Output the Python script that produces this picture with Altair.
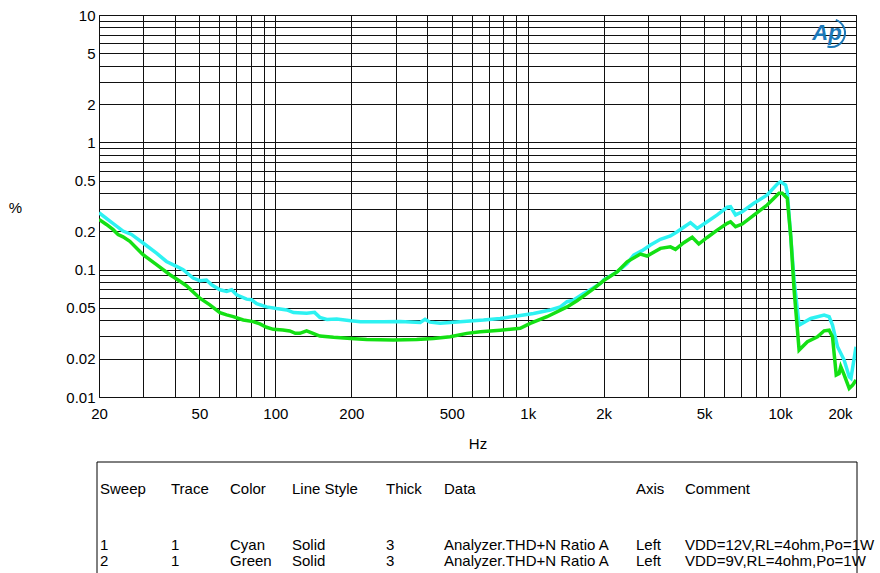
import altair as alt
import pandas as pd

# ---------------- data ----------------
cyan_f = [20, 22.1, 24.9, 26.9, 29.9, 33.8, 37.0, 40.6, 43.1, 47.2, 50.2, 53.3, 55.9, 60.3, 64.1,
          67.1, 70.2, 76.9, 80.5, 84.3, 92.3, 101, 111, 118, 133, 143, 150, 160, 175, 199,
          217, 268, 312, 375, 392, 410, 450, 540, 668, 778, 906, 1054, 1228, 1346, 1432,
          1520, 1666, 1718, 1942, 2000, 2260, 2477, 2631, 2840, 3064, 3357, 3678, 3911, 4220, 4416,
          4697, 5143, 5636, 6177, 6366, 6663, 7081, 7875, 8892, 9750, 10046, 10521, 10681, 11030, 11370,
          11720, 11900, 13240, 14950, 15650, 16140, 16900, 17950, 18800, 19100, 20000]
cyan_v = [0.28, 0.241, 0.201, 0.189, 0.162, 0.135, 0.116, 0.106, 0.100, 0.086, 0.082, 0.083, 0.076, 0.0695, 0.0675,
          0.0695, 0.0635, 0.0587, 0.058, 0.054, 0.051, 0.0495, 0.0483, 0.046, 0.0455, 0.0462, 0.0422, 0.0407, 0.041, 0.0397,
          0.039, 0.039, 0.0392, 0.0385, 0.0407, 0.0387, 0.0379, 0.039, 0.0402, 0.0414, 0.0432, 0.0453, 0.0482, 0.051, 0.056,
          0.0577, 0.0651, 0.067, 0.078, 0.083, 0.096, 0.112, 0.130, 0.141, 0.156, 0.173, 0.184, 0.1985, 0.220, 0.234,
          0.211, 0.238, 0.269, 0.309, 0.312, 0.269, 0.285, 0.332, 0.386, 0.47, 0.49, 0.462, 0.409, 0.181, 0.083,
          0.048, 0.0367, 0.0414, 0.044, 0.0427, 0.0367, 0.0248, 0.0195, 0.0144, 0.014, 0.0248]

green_f = [20, 21.4, 22.7, 23.8, 24.9, 26.5, 29.9, 33.8, 38.2, 40.6, 44.4, 50.2, 55, 60.3, 64.1,
           68.1, 74.6, 81.7, 86.8, 92.3, 98.1, 107, 114, 120, 125, 133, 141, 150, 170, 199,
           230, 294, 363, 423, 493, 574, 649, 778, 934, 1023, 1193, 1432, 1568, 1700, 1826,
           2000, 2260, 2477, 2796, 2972, 3357, 3678, 3851, 4155, 4487, 4764, 5143, 5636, 6177, 6366,
           6663, 7081, 7875, 8892, 9903, 10200, 10680, 11030, 11370, 11900, 12840, 14070, 14950, 15650, 16140,
           16700, 17140, 17400, 17950, 18800, 19400, 20000]
green_v = [0.248, 0.2265, 0.207, 0.189, 0.181, 0.167, 0.131, 0.1095, 0.0913, 0.0844, 0.0748, 0.0597, 0.0529, 0.046, 0.0441,
           0.0428, 0.0403, 0.0391, 0.0375, 0.0353, 0.034, 0.0336, 0.033, 0.0316, 0.0316, 0.0331, 0.0316, 0.0301, 0.0294, 0.0288,
           0.0283, 0.028, 0.0283, 0.0288, 0.0297, 0.0316, 0.0325, 0.0335, 0.0346, 0.0379, 0.0427, 0.051, 0.057, 0.064, 0.071,
           0.082, 0.096, 0.1153, 0.1326, 0.128, 0.147, 0.151, 0.1444, 0.1627, 0.1794, 0.159, 0.179, 0.2046, 0.231, 0.2378,
           0.2173, 0.228, 0.2685, 0.3218, 0.3975, 0.3975, 0.363, 0.181, 0.0692, 0.0234, 0.0272, 0.0297, 0.0331, 0.0335, 0.0297,
           0.0149, 0.0153, 0.0173, 0.0149, 0.0117, 0.0124, 0.0136]

x_grid = [20, 30, 40, 50, 60, 70, 80, 90, 100, 200, 300, 400, 500, 600, 700, 800, 900,
          1000, 2000, 3000, 4000, 5000, 6000, 7000, 8000, 9000, 10000, 20000]
x_labels = [20, 50, 100, 200, 500, 1000, 2000, 5000, 10000, 20000]
y_grid = [0.01, 0.02, 0.03, 0.04, 0.05, 0.06, 0.07, 0.08, 0.09,
          0.1, 0.2, 0.3, 0.4, 0.5, 0.6, 0.7, 0.8, 0.9,
          1, 2, 3, 4, 5, 6, 7, 8, 9, 10]
y_labels = [0.01, 0.02, 0.05, 0.1, 0.2, 0.5, 1, 2, 5, 10]

headers = ["Sweep", "Trace", "Color", "Line Style", "Thick", "Data", "Axis", "Comment"]
row1 = ["1", "1", "Cyan", "Solid", "3", "Analyzer.THD+N Ratio A", "Left", "VDD=12V,RL=4ohm,Po=1W"]
row2 = ["2", "1", "Green", "Solid", "3", "Analyzer.THD+N Ratio A", "Left", "VDD=9V,RL=4ohm,Po=1W"]

# ---------------- layout ----------------
FONT = "Liberation Sans"
CYAN = "#2DF2F2"
GREEN = "#14E014"
LEFT, TOP, W, H = 99, 15, 757, 382
col_x = [100, 171, 230, 292, 386, 444, 636, 685]   # page coords
head_y, r1_y, r2_y = 489, 545, 561
tbl_top, tbl_left, tbl_right = 462, 97, 857

df_c = pd.DataFrame({"freq": cyan_f, "val": cyan_v})
df_g = pd.DataFrame({"freq": green_f, "val": green_v})
one = pd.DataFrame({"a": [0]})

x_enc = alt.X("freq:Q",
              scale=alt.Scale(type="log", domain=[20, 20000], nice=False),
              axis=alt.Axis(values=x_grid, title="Hz", labelFlush=False,
                            labelExpr="indexof(%s, datum.value) >= 0 ? (datum.value >= 1000 ? (datum.value/1000) + 'k' : datum.value + '') : ''" % str(x_labels),
                            labelOffset={"condition": {"test": "datum.value >= 20000", "value": -16}, "value": 0},
                            labelPadding=9, titlePadding=15))
y_enc = alt.Y("val:Q",
              scale=alt.Scale(type="log", domain=[0.01, 10], nice=False),
              axis=alt.Axis(values=y_grid, title="%", labelFlush=False,
                            labelExpr="indexof(%s, datum.value) >= 0 ? datum.value + '' : ''" % str(y_labels),
                            labelPadding=4, titleAngle=0, titleX=-84, titleY=192,
                            titleAlign="center", titleBaseline="middle"))

cyan_line = alt.Chart(df_c).mark_line(color=CYAN, strokeWidth=3.5, clip=True).encode(x=x_enc, y=y_enc)
green_line = alt.Chart(df_g).mark_line(color=GREEN, strokeWidth=3.5, clip=True).encode(x="freq:Q", y="val:Q")

layers = [cyan_line, green_line]

# AP logo
layers.append(alt.Chart(one).mark_text(text="Ap", font=FONT, fontSize=22, fontStyle="italic",
                                       fontWeight="bold", color="#1B78B8", align="center", baseline="middle")
              .encode(x=alt.value(827 - LEFT), y=alt.value(33 - TOP)))
layers.append(alt.Chart(one).mark_arc(radius=15, radius2=13, theta=0.35, theta2=3.4, color="#1B78B8")
              .encode(x=alt.value(831 - LEFT), y=alt.value(33 - TOP)))

# table
def cell(txt, x, y):
    return alt.Chart(one).mark_text(text=txt, font=FONT, fontSize=15, align="left",
                                    baseline="middle", color="black").encode(
        x=alt.value(x - LEFT), y=alt.value(y - TOP))

for i in range(len(headers)):
    layers.append(cell(headers[i], col_x[i], head_y))
    layers.append(cell(row1[i], col_x[i], r1_y))
    layers.append(cell(row2[i], col_x[i], r2_y))

rule = lambda x1, x2, y1, y2: alt.Chart(one).mark_rule(color="black", strokeWidth=1).encode(
    x=alt.value(x1 - LEFT), x2=alt.value(x2 - LEFT), y=alt.value(y1 - TOP), y2=alt.value(y2 - TOP))
layers.append(rule(tbl_left, tbl_right, tbl_top, tbl_top))
layers.append(rule(tbl_left, tbl_left, tbl_top, 580))
layers.append(rule(tbl_right, tbl_right, tbl_top, 580))

chart = alt.layer(*layers).properties(
    width=W, height=H,
    autosize=alt.AutoSizeParams(type="none"),
    padding={"left": LEFT, "top": TOP, "right": 880 - LEFT - W, "bottom": 573 - TOP - H},
).configure_view(stroke="black", strokeWidth=1).configure_axis(
    grid=True, gridColor="#111111", gridOpacity=1, gridWidth=1,
    domain=False, ticks=False,
    labelFont=FONT, labelFontSize=15, labelColor="black",
    titleFont=FONT, titleFontSize=15, titleFontWeight="normal", titleColor="black",
)

chart.save("out.html", embed_options={"renderer": "svg", "actions": False})
